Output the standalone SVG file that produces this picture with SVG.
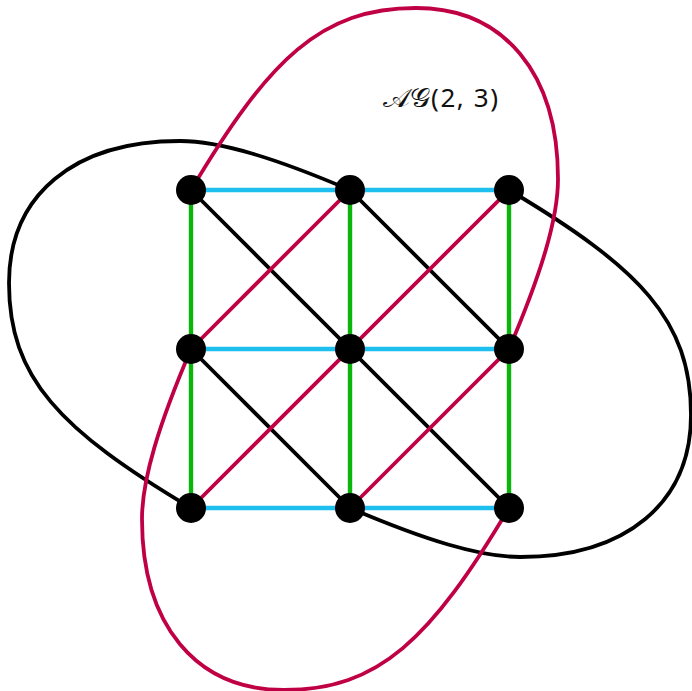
<svg xmlns="http://www.w3.org/2000/svg" width="692" height="691" viewBox="0 0 692 691">
<style>
.loop{fill:none;stroke-width:3.8}
.e{stroke-width:3.8;stroke-linecap:butt}
.h{stroke:#1cbfee;stroke-width:4.4}
.v{stroke:#0bb50b;stroke-width:4.4}
.k{stroke:#000}
.r{stroke:#c00044}
.n{fill:#000}
.lbl{font-family:"Noto Sans","DejaVu Sans",sans-serif;font-size:26px;fill:#111}
</style>
<defs>
<path id="blob" d="M350,190 L509,190 C640,268 691,320 691,415 C691,503 626,557 520,557 C480,557 425,540 350,508 L191,508 C60,430 9,378 9,283 C9,195 74,141 180,141 C220,141 275,158 350,190 Z"/>
</defs>
<g id="connectors">
<use href="#blob" class="loop" stroke="#000"/>
<use href="#blob" class="loop" stroke="#c00044" transform="rotate(90 350 349)"/>
<line class="e h" x1="191" y1="190" x2="509" y2="190"/>
<line class="e h" x1="191" y1="349" x2="509" y2="349"/>
<line class="e h" x1="191" y1="508" x2="509" y2="508"/>
<line class="e v" x1="191" y1="190" x2="191" y2="508"/>
<line class="e v" x1="350" y1="190" x2="350" y2="508"/>
<line class="e v" x1="509" y1="190" x2="509" y2="508"/>
<line class="e k" x1="191" y1="190" x2="509" y2="508"/>
<line class="e k" x1="350" y1="190" x2="509" y2="349"/>
<line class="e k" x1="191" y1="349" x2="350" y2="508"/>
<line class="e r" x1="191" y1="349" x2="350" y2="190"/>
<line class="e r" x1="191" y1="508" x2="509" y2="190"/>
<line class="e r" x1="350" y1="508" x2="509" y2="349"/>
</g>
<g id="n11"><circle class="n" cx="191" cy="190" r="15"/></g>
<g id="n12"><circle class="n" cx="350" cy="190" r="15"/></g>
<g id="n13"><circle class="n" cx="509" cy="190" r="15"/></g>
<g id="n21"><circle class="n" cx="191" cy="349" r="15"/></g>
<g id="n22"><circle class="n" cx="350" cy="349" r="15"/></g>
<g id="n23"><circle class="n" cx="509" cy="349" r="15"/></g>
<g id="n31"><circle class="n" cx="191" cy="508" r="15"/></g>
<g id="n32"><circle class="n" cx="350" cy="508" r="15"/></g>
<g id="n33"><circle class="n" cx="509" cy="508" r="15"/></g>
<g id="label"><text class="lbl" y="107"><tspan x="383" textLength="48" lengthAdjust="spacingAndGlyphs">𝒜𝒢</tspan><tspan x="431" textLength="67">(2, 3)</tspan></text></g>
</svg>
